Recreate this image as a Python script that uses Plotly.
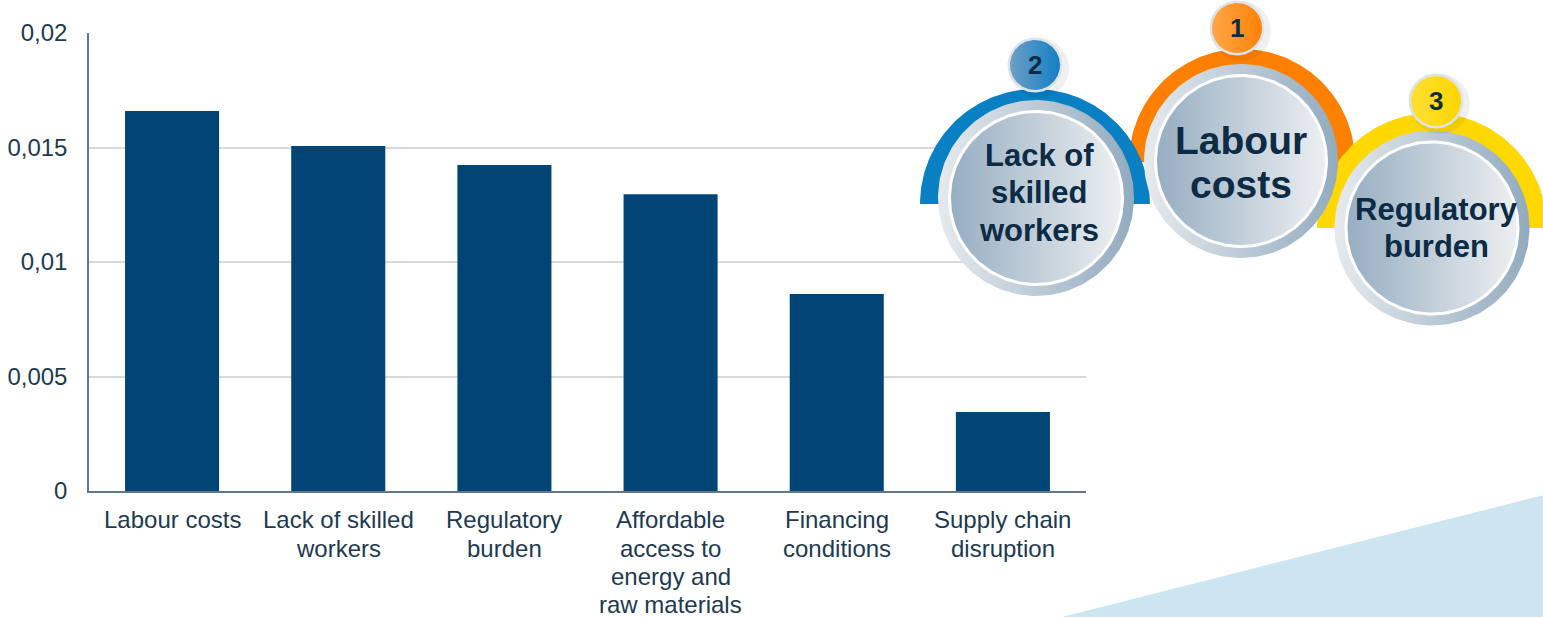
import numpy as np
import plotly.graph_objects as go

# ---------------- data ----------------
category_lines = [["Labour costs"], ["Lack of skilled", "workers"], ["Regulatory", "burden"],
                  ["Affordable", "access to", "energy and", "raw materials"],
                  ["Financing", "conditions"], ["Supply chain", "disruption"]]
categories = [" ".join(l) for l in category_lines]
values = [0.01659, 0.01507, 0.01424, 0.01296, 0.00860, 0.00345]
tick_vals = [0, 0.005, 0.01, 0.015, 0.02]
tick_text = ["0", "0,005", "0,01", "0,015", "0,02"]

rank_labels = ["2", "1", "3"]
rank_titles = [["Lack of", "skilled", "workers"], ["Labour", "costs"], ["Regulatory", "burden"]]

# page is rendered with body margin removed (see post_script)
OX, OY = 0, 0
PW, PH = 1543, 617
W, H = PW, PH
BAR = "#004576"
TXT = "#1e3a50"
NAVY = "#0d2b45"

def px_x(x):
    return (x - OX) / W

def px_y(y):
    return (OY + H - y) / H

fig = go.Figure()

fig.add_trace(go.Bar(x=categories, y=values, marker=dict(color=BAR, line=dict(width=0)),
                     hoverinfo="skip", xaxis="x", yaxis="y"))

# ---------------- decoration helpers (pixel coordinate subplot) ----------------
def disc(cx, cy, r, n=181):
    t = np.linspace(0, 2 * np.pi, n)
    return cx + r * np.cos(t), cy - r * np.sin(t)

def half_disc(cx, cy, r, n=121):
    t = np.linspace(0, np.pi, n)
    xs = np.concatenate([cx + r * np.cos(t), [cx + r]])
    ys = np.concatenate([cy - r * np.sin(t), [cy]])
    return xs, ys

def add_fill(xs, ys, color=None, grad=None):
    kw = dict(x=xs, y=ys, mode="lines", fill="toself", line=dict(width=0),
              hoverinfo="skip", xaxis="x2", yaxis="y2", showlegend=False)
    if grad is not None:
        kw["fillgradient"] = dict(type="horizontal", colorscale=grad)
        kw["fillcolor"] = grad[0][1]
    else:
        kw["fillcolor"] = color
    fig.add_trace(go.Scatter(**kw))

# light blue background wedge
add_fill(np.array([1062, 1560, 1560, 1062]), np.array([617, 491, 630, 630]), color="#cde4f1")

# coloured half rings (orange behind)
add_fill(*half_disc(1242, 162, 113), color="#ff8000")
add_fill(*half_disc(1035, 204, 115), color="#0a80c4")
add_fill(*half_disc(1432, 228, 115), color="#ffd800")

# big circles
circles = [(1036, 198, 98), (1432, 228, 97.5), (1241, 161, 97)]
for cx, cy, R in circles:
    add_fill(*disc(cx, cy, R), grad=[[0, "#e6eaed"], [1, "#93abbf"]])
    add_fill(*disc(cx, cy, R - 10), color="#ffffff")
    add_fill(*disc(cx, cy, R - 13), grad=[[0, "#97aec2"], [1, "#eceff1"]])

# badges
badges = [(1035, 65, [[0, "#6d9fc6"], [1, "#137fc4"]]),
          (1237, 28, [[0, "#ffa647"], [1, "#ff8207"]]),
          (1436, 101, [[0, "#ffe033"], [1, "#ffd600"]])]
for (bx, by, grad) in badges:
    add_fill(*disc(bx + 4, by + 3, 30), color="rgba(0,0,0,0.06)")
    add_fill(*disc(bx, by, 27.5), color="#dde3e8")
    add_fill(*disc(bx, by, 25), grad=grad)

annotations = []
for (bx, by, _), lab in zip(badges, rank_labels):
    annotations.append(dict(x=bx, y=by, xref="x2", yref="y2", text="<b>%s</b>" % lab,
                            showarrow=False, font=dict(family="Liberation Sans", size=26, color=NAVY),
                            xanchor="center", yanchor="middle"))

title_pos = [(1039, [155, 192, 230], 31), (1241, [140, 184], 39), (1436, [209, 246], 31)]
for (tx, ys, fs), lines in zip(title_pos, rank_titles):
    for yy, line in zip(ys, lines):
        annotations.append(dict(x=tx, y=yy, xref="x2", yref="y2", text="<b>%s</b>" % line,
                                showarrow=False, font=dict(family="Liberation Sans", size=fs, color=NAVY),
                                xanchor="center", yanchor="middle"))

# category labels (one annotation per line for tight line spacing)
CAT_FS = 24
line_centers = [519.5, 548, 576.5, 604.5]
for cat, lines in zip(categories, category_lines):
    for yy, line in zip(line_centers, lines):
        annotations.append(dict(x=cat, y=px_y(yy), xref="x", yref="paper", text=line,
                                showarrow=False, font=dict(family="Liberation Sans", size=CAT_FS, color=TXT),
                                xanchor="center", yanchor="middle"))

fig.update_layout(
    width=W, height=H,
    margin=dict(l=0, r=0, t=0, b=0),
    paper_bgcolor="white", plot_bgcolor="rgba(0,0,0,0)",
    showlegend=False,
    bargap=0.434,
    font=dict(family="Liberation Sans", color=TXT),
    xaxis=dict(domain=[px_x(89), px_x(1086)], showline=True, linecolor="#62788a", linewidth=1.5,
               showgrid=False, ticks="", showticklabels=False,
               automargin=False, fixedrange=True, anchor="y"),
    yaxis=dict(domain=[px_y(491), px_y(33)], range=[0, 0.02], showline=True,
               linecolor="#62788a", linewidth=1.5, showgrid=True, gridcolor="#d9d9d9",
               gridwidth=1.5, zeroline=False, tickvals=tick_vals, ticktext=tick_text,
               tickfont=dict(size=24, color=TXT), ticks="", ticklabelstandoff=15,
               automargin=False, fixedrange=True, anchor="x"),
    xaxis2=dict(domain=[0, 1], range=[OX, OX + W], visible=False, fixedrange=True, anchor="y2"),
    yaxis2=dict(domain=[0, 1], range=[OY + H, OY], visible=False, fixedrange=True, anchor="x2"),
    annotations=annotations,
)

fig.write_html("out.html", config={"displayModeBar": False},
               post_script="document.body.style.margin='0';document.body.style.overflow='hidden';")
